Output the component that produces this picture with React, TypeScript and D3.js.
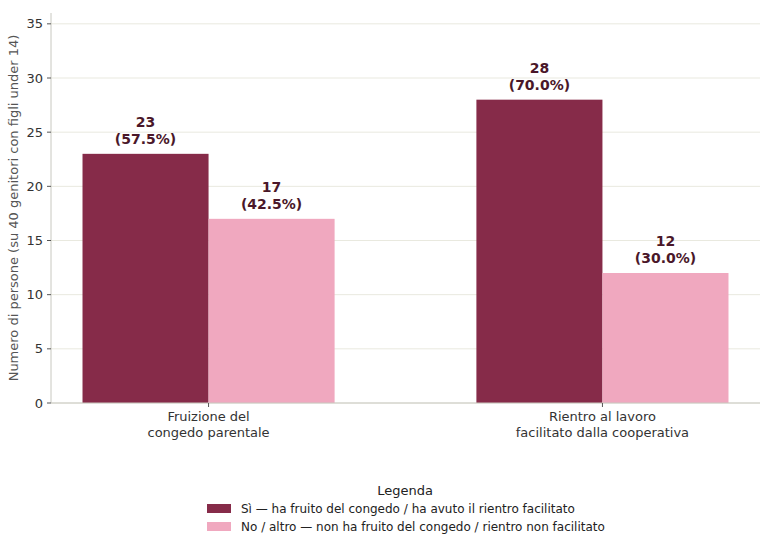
import React from "react";
import * as d3 from "d3";

const categories = ["Fruizione del\ncongedo parentale", "Rientro al lavoro\nfacilitato dalla cooperativa"];
const seriesNames = [
  "Sì — ha fruito del congedo / ha avuto il rientro facilitato",
  "No / altro — non ha fruito del congedo / rientro non facilitato",
];
const yesValues = [23, 28];
const noValues = [17, 12];
const totalRespondents = 40;
const yTicks = [0, 5, 10, 15, 20, 25, 30, 35];
const colors = ["#862b49", "#f0a8bf"];

const W = 768;
const H = 545;
const FONT = "DejaVu Sans, sans-serif";

export default function App() {
  const x = d3.scaleLinear().domain([-0.4, 1.4]).range([51, 760]);
  const y = d3.scaleLinear().domain([0, 36]).range([403, 13]);
  const bw = 0.32;
  const series = [yesValues, noValues];

  return (
    <svg width={W} height={H} style={{ position: "absolute", left: 0, top: 0, background: "#fff" }} fontFamily={FONT}>
      {/* grid */}
      {yTicks.map((t) => (
        <line key={"g" + t} x1={x(-0.4)} x2={x(1.4)} y1={y(t)} y2={y(t)} stroke="#e9e9df" strokeWidth={1} />
      ))}
      {/* bars */}
      {series.map((vals, si) =>
        vals.map((v, ci) => {
          const x0 = si === 0 ? x(ci - bw) : x(ci);
          const x1 = si === 0 ? x(ci) : x(ci + bw);
          const cx = (x0 + x1) / 2;
          return (
            <g key={`b${si}-${ci}`}>
              <rect x={x0} y={y(v)} width={x1 - x0} height={y(0) - y(v)} fill={colors[si]} />
              <text x={cx} y={y(v) - 27} textAnchor="middle" fontSize={14} fontWeight="bold" fill="#4a1729">
                {v}
              </text>
              <text x={cx} y={y(v) - 10} textAnchor="middle" fontSize={14} fontWeight="bold" fill="#4a1729">
                ({((v / totalRespondents) * 100).toFixed(1)}%)
              </text>
            </g>
          );
        })
      )}
      {/* spines */}
      <line x1={51} x2={51} y1={y(36)} y2={y(0)} stroke="#c8c8c0" strokeWidth={1} />
      <line x1={51} x2={x(1.4)} y1={y(0)} y2={y(0)} stroke="#c8c8c0" strokeWidth={1} />
      {/* y ticks */}
      {yTicks.map((t) => (
        <g key={"t" + t}>
          <line x1={47} x2={51} y1={y(t)} y2={y(t)} stroke="#555" strokeWidth={1} />
          <text x={43} y={y(t) + 4.5} textAnchor="end" fontSize={13} fill="#333">
            {t}
          </text>
        </g>
      ))}
      {/* x ticks */}
      {categories.map((c, i) => (
        <g key={"x" + i}>
          <line x1={x(i)} x2={x(i)} y1={y(0)} y2={y(0) + 4} stroke="#555" strokeWidth={1} />
          {c.split("\n").map((line, li) => (
            <text key={li} x={x(i)} y={421 + li * 16} textAnchor="middle" fontSize={13} fill="#333">
              {line}
            </text>
          ))}
        </g>
      ))}
      {/* y label */}
      <text
        transform={`translate(18, ${y(18)}) rotate(-90)`}
        textAnchor="middle"
        fontSize={13}
        fill="#555"
      >
        Numero di persone (su 40 genitori con figli under 14)
      </text>
      {/* legend */}
      <text x={405} y={495} textAnchor="middle" fontSize={13} fill="#222">
        Legenda
      </text>
      {seriesNames.map((s, i) => (
        <g key={"l" + i}>
          <rect x={207} y={504 + i * 18} width={24} height={9} fill={colors[i]} />
          <text x={241} y={513 + i * 18} fontSize={12} fill="#222">
            {s}
          </text>
        </g>
      ))}
    </svg>
  );
}
